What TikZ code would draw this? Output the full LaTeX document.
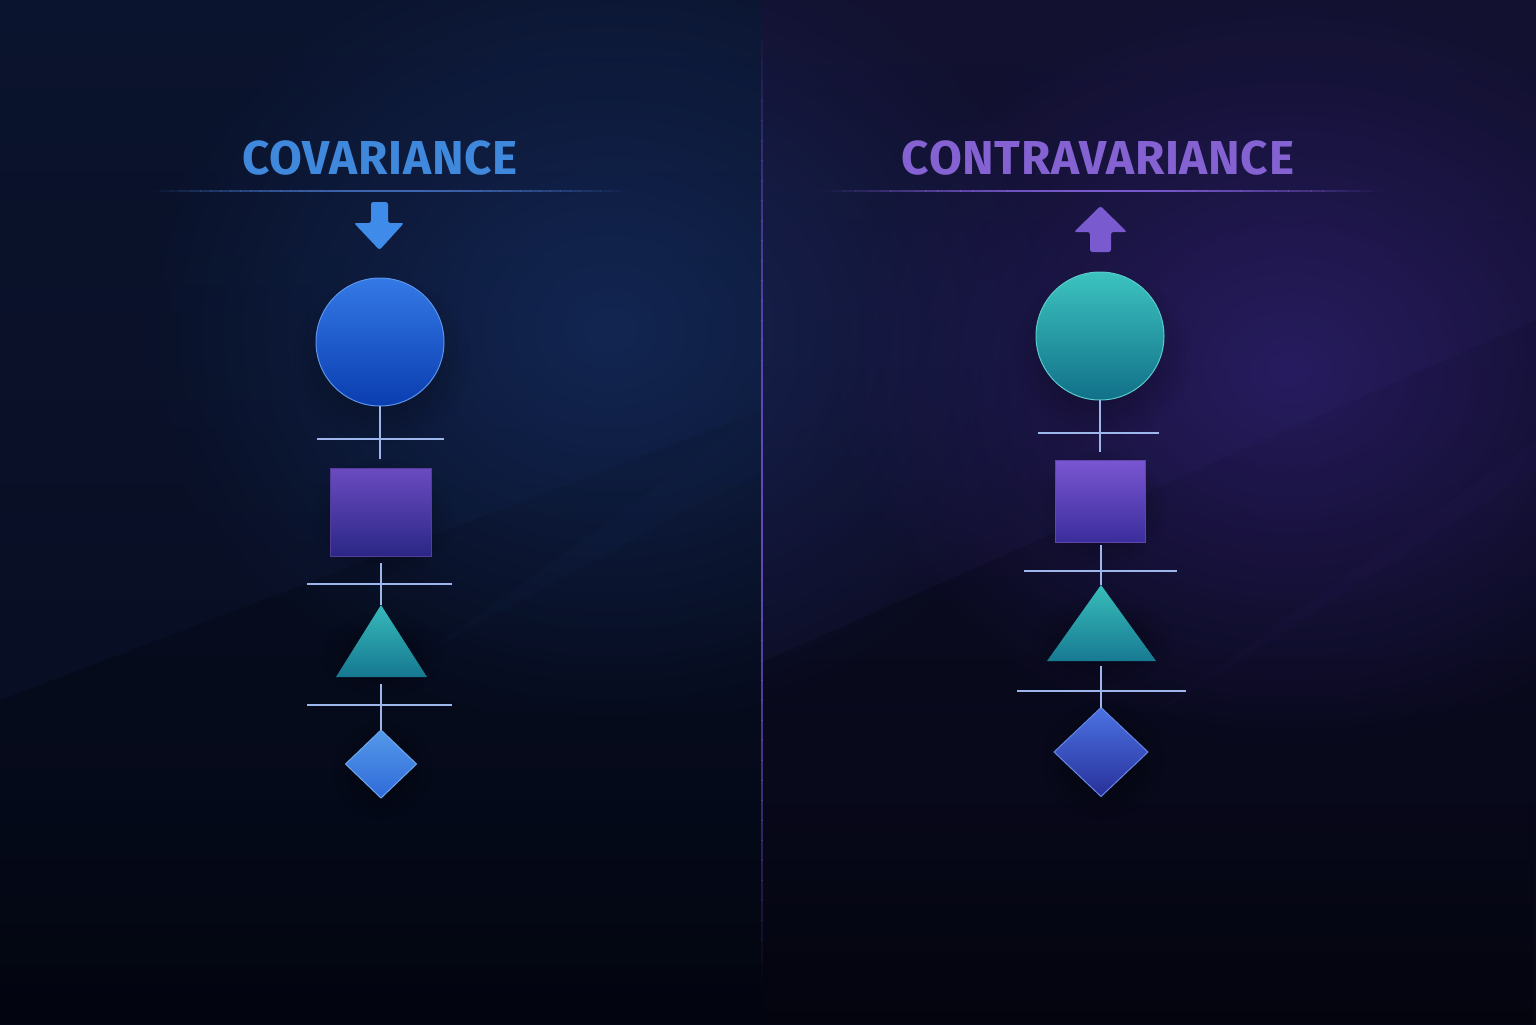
\documentclass[tikz,border=0pt]{standalone}
\usepackage{fontspec}
\setmainfont{Fira Sans}
\newfontfamily\titlefont[LetterSpace=1.5]{Fira Sans}
\usetikzlibrary{shapes.geometric,fadings}
\definecolor{bgLtop}{HTML}{0A1128}
\definecolor{bgLbot}{HTML}{040816}
\definecolor{glowL}{HTML}{1B3A7A}
\definecolor{bgRtop}{HTML}{0E0E28}
\definecolor{bgRbot}{HTML}{060716}
\definecolor{glowR}{HTML}{2E1F6E}
\definecolor{bandL}{HTML}{2A4A9A}
\definecolor{bandR}{HTML}{4A3AA0}
\definecolor{covblue}{HTML}{3F88DC}
\definecolor{contrapurple}{HTML}{8462D2}
\definecolor{ruleL}{HTML}{3F66B0}
\definecolor{ruleR}{HTML}{7A5AD0}
\definecolor{divcol}{HTML}{6A4FC8}
\definecolor{conncol}{HTML}{9DB6EC}
\definecolor{circLt}{HTML}{3479E6}\definecolor{circLb}{HTML}{0A3DB0}
\definecolor{sqLt}{HTML}{6A4BC0}\definecolor{sqLb}{HTML}{2B2786}
\definecolor{triLt}{HTML}{36B9BA}\definecolor{triLb}{HTML}{167891}
\definecolor{diaLt}{HTML}{5599EA}\definecolor{diaLb}{HTML}{2F6AD8}
\definecolor{circRt}{HTML}{3CC3C0}\definecolor{circRb}{HTML}{117088}
\definecolor{sqRt}{HTML}{7A56D2}\definecolor{sqRb}{HTML}{3A2D9C}
\definecolor{triRt}{HTML}{38BDBA}\definecolor{triRb}{HTML}{177A92}
\definecolor{diaRt}{HTML}{4A72E2}\definecolor{diaRb}{HTML}{29309A}
\definecolor{arrowL}{HTML}{3F8BEA}
\definecolor{arrowR}{HTML}{7A5ACF}
\tikzfading[name=glowfade, inner color=transparent!0, outer color=transparent!100]
\tikzfading[name=vfadeb, top color=transparent!100, bottom color=transparent!0]
\tikzset{
  titlestyle/.style={font=\titlefont\bfseries\fontsize{23.8}{28}\selectfont, inner sep=0pt, anchor=center},
  conn/.style={draw=conncol, line width=1pt},
  shadowblob/.style={fill=black, opacity=0.45, path fading=glowfade},
  shp/.style={inner sep=0pt, outer sep=0pt, line width=0.5pt}
}
\begin{document}
\begin{tikzpicture}[x=0.5pt,y=-0.5pt]
\useasboundingbox (0,0) rectangle (1536,1024);
% ---------- backgrounds
\shade[top color=bgLtop, bottom color=bgLbot] (0,0) rectangle (762,1024);
\shade[top color=bgRtop, bottom color=bgRbot] (762,0) rectangle (1536,1024);
\fill[glowL, opacity=0.5, path fading=glowfade] (610,330) ellipse [x radius=470, y radius=400];
\fill[glowR, opacity=0.75, path fading=glowfade] (1290,370) ellipse [x radius=460, y radius=380];
\fill[bandL, opacity=0.06] (0,0) -- (762,0) -- (762,410) -- (0,700) -- cycle;
\fill[bandL, opacity=0.04] (430,650) -- (762,470) -- (762,410) -- cycle;
\fill[bandR, opacity=0.07] (762,0) -- (1536,0) -- (1536,320) -- (762,662) -- cycle;
\fill[bandR, opacity=0.04] (1130,730) -- (1536,470) -- (1536,440) -- cycle;
\fill[black, opacity=0.3, path fading=vfadeb] (0,800) rectangle (1536,1024);
% divider
\foreach \i in {0,...,47}
  \fill[divcol, opacity={0.9*sin(180*(\i+0.5)/48)}] (761,{20+20*\i}) rectangle (763,{40.5+20*\i});
% ---------- titles
\node[titlestyle, text=covblue] (tcov) at (380,158) {COVARIANCE};
\node[titlestyle, text=contrapurple] (tcon) at (1098,158) {CONTRAVARIANCE};
\foreach \i in {0,...,47}{
  \fill[ruleL, opacity={sin(180*(\i+0.5)/48)}] ({150+10*\i},190) rectangle ({160.5+10*\i},192);
  \fill[ruleR, opacity={sin(180*(\i+0.5)/48)}] ({820+11.7*\i},190) rectangle ({832.2+11.7*\i},192);
}
% ---------- arrows
\fill[arrowL, rounded corners=1.2pt] (371,202) -- (388,202) -- (388,223) -- (404,223) -- (379.5,250) -- (354,223) -- (371,223) -- cycle;
\fill[arrowR, rounded corners=1.2pt] (1100.5,206) -- (1127,232) -- (1111,232) -- (1111,252) -- (1090,252) -- (1090,232) -- (1074,232) -- cycle;
% ---------- left column
\fill[shadowblob] (382,360) ellipse [x radius=90, y radius=85];
\fill[shadowblob] (383,520) ellipse [x radius=72, y radius=62];
\fill[shadowblob] (382,655) ellipse [x radius=62, y radius=42];
\fill[shadowblob] (382,770) ellipse [x radius=50, y radius=50];
\node[shp, circle, minimum size=64pt, top color=circLt, bottom color=circLb, draw=circLt!80!white] (c1) at (380,342) {};
\node[shp, rectangle, minimum width=50.5pt, minimum height=44pt, top color=sqLt, bottom color=sqLb, draw=sqLt!80!black] (s1) at (381,512) {};
\coordinate (t1a) at (381,605);
\coordinate (t1b) at (381,677);
\shade[top color=triLt, bottom color=triLb] (t1a) -- (427,677) -- (336,677) -- cycle;
\node[shp, diamond, minimum width=35.5pt, minimum height=34pt, top color=diaLt, bottom color=diaLb, draw=diaLt!85!white] (d1) at (381,764) {};
% left connectors
\coordinate (v1e) at (380,459);
\coordinate (v2s) at (381,563);
\coordinate (v3s) at (381,684);
\coordinate (h1a) at (317,439) ; \coordinate (h1b) at (444,439);
\coordinate (h2a) at (307,584) ; \coordinate (h2b) at (452,584);
\coordinate (h3a) at (307,705) ; \coordinate (h3b) at (452,705);
\draw[conn] (c1.south) -- (v1e);
\draw[conn] (h1a) -- (h1b);
\draw[conn] (v2s) -- (t1a);
\draw[conn] (h2a) -- (h2b);
\draw[conn] (v3s) -- (d1.north);
\draw[conn] (h3a) -- (h3b);
% ---------- right column
\fill[shadowblob] (1103,355) ellipse [x radius=90, y radius=85];
\fill[shadowblob] (1103,508) ellipse [x radius=66, y radius=58];
\fill[shadowblob] (1103,640) ellipse [x radius=72, y radius=44];
\fill[shadowblob] (1103,760) ellipse [x radius=62, y radius=60];
\node[shp, circle, minimum size=64pt, top color=circRt, bottom color=circRb, draw=circRt!85!white] (c2) at (1100,336) {};
\node[shp, rectangle, minimum width=45pt, minimum height=41pt, top color=sqRt, bottom color=sqRb, draw=sqRt!80!black] (s2) at (1100,501) {};
\coordinate (t2a) at (1101,585);
\coordinate (t2b) at (1101,661);
\shade[top color=triRt, bottom color=triRb] (t2a) -- (1156,661) -- (1047,661) -- cycle;
\node[shp, diamond, minimum width=47pt, minimum height=44.5pt, top color=diaRt, bottom color=diaRb, draw=diaRt!85!white] (d2) at (1101,752) {};
% right connectors
\coordinate (w1e) at (1100,452);
\coordinate (w2s) at (1101,545);
\coordinate (w3s) at (1101,666);
\coordinate (k1a) at (1038,433) ; \coordinate (k1b) at (1159,433);
\coordinate (k2a) at (1024,571) ; \coordinate (k2b) at (1177,571);
\coordinate (k3a) at (1017,691) ; \coordinate (k3b) at (1186,691);
\draw[conn] (c2.south) -- (w1e);
\draw[conn] (k1a) -- (k1b);
\draw[conn] (w2s) -- (t2a);
\draw[conn] (k2a) -- (k2b);
\draw[conn] (w3s) -- (d2.north);
\draw[conn] (k3a) -- (k3b);
\end{tikzpicture}
\end{document}
